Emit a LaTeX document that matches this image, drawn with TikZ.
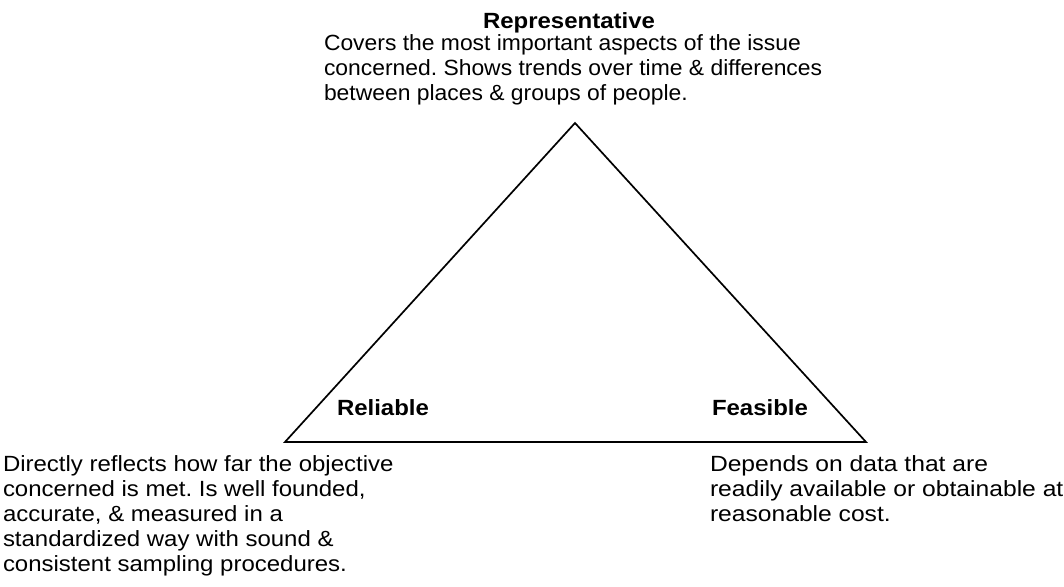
\documentclass[tikz,border=0pt]{standalone}
\usepackage{fontspec}
\setmainfont[FakeStretch=1.09]{Liberation Sans}
\newfontfamily\topfont[FakeStretch=1.04]{Liberation Sans}
\newfontfamily\rightfont[FakeStretch=1.12]{Liberation Sans}
\begin{document}
\frenchspacing
\begin{tikzpicture}[x=1bp,y=-1bp,
  txt/.style={inner sep=0pt, outer sep=0pt, anchor=base west, font=\fontsize{22bp}{25bp}\selectfont},
  ttl/.style={txt, font=\fontsize{22bp}{25bp}\selectfont\bfseries},
  edge/.style={line width=1.7bp, line join=miter}]
\useasboundingbox (0,0) rectangle (1064,587);
\coordinate (L) at (285,442);
\coordinate (T) at (575,123);
\coordinate (R) at (866,442);
\draw[edge] (L) -- (T) -- (R) -- cycle;
\node[ttl, anchor=base] (rep) at (569,29) {Representative};
\node[txt, font=\fontsize{22bp}{25bp}\selectfont\topfont] (repd) at (324,51) {\vtop{\hbox{Covers the most important aspects of the issue}\hbox{concerned. Shows trends over time \& differences}\hbox{between places \& groups of people.}}};
\node[ttl] (rel) at (337,415) {Reliable};
\node[ttl] (fea) at (712,415) {Feasible};
\node[txt] (reld) at (3,471) {\vtop{\hbox{Directly reflects how far the objective}\hbox{concerned is met. Is well founded,}\hbox{accurate, \& measured in a}\hbox{standardized way with sound \&}\hbox{consistent sampling procedures.}}};
\node[txt, font=\fontsize{22bp}{25bp}\selectfont\rightfont] (fead) at (710,471) {\vtop{\hbox{Depends on data that are}\hbox{readily available or obtainable at}\hbox{reasonable cost.}}};
\end{tikzpicture}
\end{document}
